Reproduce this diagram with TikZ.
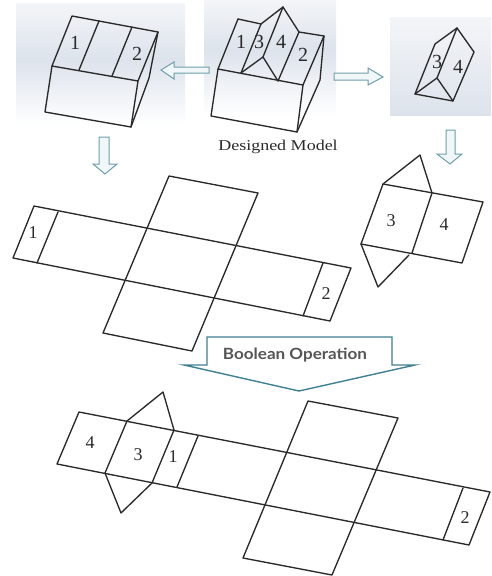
\documentclass[tikz,border=0pt]{standalone}
\usepackage{fontspec}
\setmainfont{Liberation Serif}
\newfontfamily\opfont{Lato}
\definecolor{inkc}{HTML}{2A2A2A}
\definecolor{tealc}{HTML}{6E9FAA}
\definecolor{tealfill}{HTML}{F1F7F9}
\definecolor{tealdark}{HTML}{3F7F92}
\definecolor{panelmid}{HTML}{DDE3EC}
\definecolor{paneltop}{HTML}{F3F5F8}
\tikzset{
  edge/.style={draw=inkc,line width=1.35pt,line join=round,line cap=round},
  num/.style={font=\fontsize{18}{18}\selectfont,text=inkc,inner sep=0pt},
  bignum/.style={font=\fontsize{20}{20}\selectfont,text=inkc,inner sep=0pt},
  blockarrow/.style={draw=tealc,fill=tealfill,line width=1pt,line join=miter},
  bigarrow/.style={draw=tealdark,fill=white,line width=1.4pt,line join=miter},
}
\begin{document}
\begin{tikzpicture}[x=1pt,y=-1pt]
\useasboundingbox (0,0) rectangle (491,576);
% panels
\shade[top color=paneltop,bottom color=panelmid] (16,3) rectangle (185,60);
\shade[top color=panelmid,bottom color=white] (16,60) rectangle (185,125);
\shade[top color=paneltop,bottom color=panelmid] (204,0) rectangle (336,50);
\shade[top color=panelmid,bottom color=white] (204,50) rectangle (336,115);
\shade[top color=paneltop,bottom color=panelmid] (390,17) rectangle (491,115);
% left block
\draw[edge] (72,16)--(158,32)--(138,81)--(52,66)--cycle;
\draw[edge] (99,21)--(79,70) (132,27)--(112,76);
\draw[edge] (52,66)--(45,112)--(131,127)--(138,81);
\draw[edge] (158,32)--(149,78)--(131,127);
\node[bignum] (la) at (75,43) {1};
\node[bignum] (lb) at (137,54) {2};
% middle block
\draw[edge] (238,19)--(218,69)--(303,85)--(324,36)--(299,32);
\draw[edge] (238,19)--(261,24);
\draw[edge] (218,69)--(211,116)--(297,132)--(303,85);
\draw[edge] (324,36)--(320,80)--(297,132);
\draw[edge] (241,73)--(261,24)--(283,7)--(299,32)--(278,81);
\draw[edge] (283,7)--(263,57);
\draw[edge] (241,73)--(263,57)--(278,81);
\node[bignum] (ma) at (241,42) {1};
\node[bignum] (mc) at (259,42) {3};
\node[bignum] (md) at (281,42) {4};
\node[bignum] (mb) at (303,55) {2};
\node[font=\fontsize{15}{15}\selectfont,text=inkc,inner sep=0pt,xscale=1.2] (title) at (278,147) {Designed Model};
% right prism
\draw[edge] (415,94)--(435,44)--(457,28)--(474,52)--(453,101)--cycle;
\draw[edge] (457,28)--(437,78);
\draw[edge] (415,94)--(437,78)--(453,101);
\node[bignum] (pc) at (437,62) {3};
\node[bignum] (pd) at (458,67) {4};
% block arrows
\draw[blockarrow] (161,70)--(174,62)--(174,67)--(209,67)--(209,73)--(174,73)--(174,79)--cycle;
\draw[blockarrow] (334,73)--(368,73)--(368,68)--(383,77)--(368,85)--(368,80)--(334,80)--cycle;
\draw[blockarrow] (99,137)--(109,137)--(109,164)--(117,164)--(105,174)--(93,164)--(99,164)--cycle;
\draw[blockarrow] (446,130)--(455,130)--(455,154)--(462,154)--(450,164)--(437,154)--(446,154)--cycle;
% net 1
\draw[edge] (34,206)--(351,268)--(330,321)--(13,258)--cycle;
\draw[edge] (169,176)--(258,193)--(192,351)--(103,333)--cycle;
\draw[edge] (58,212)--(37,263) (323,263)--(303,316);
\node[num] (na) at (33,233) {1};
\node[num] (nb) at (326,294) {2};
% net 2
\draw[edge] (383,184)--(483,202)--(462,263)--(361,244)--cycle;
\draw[edge] (383,184)--(420,155)--(432,193)--(412,253);
\draw[edge] (361,244)--(378,287)--(409,255);
\node[num] (oc) at (391,221) {3};
\node[num] (od) at (444,225) {4};
% boolean arrow
\draw[bigarrow] (207,337)--(392,337)--(392,365)--(415,365)--(299,391)--(184,365)--(207,365)--cycle;
\node[font=\opfont\bfseries\fontsize{15.5}{15}\selectfont,text=inkc!80,inner sep=0pt,xscale=1.1] (bool) at (295,355) {Boolean Operation};
% net 3
\draw[edge] (79,412)--(490,492)--(469,545)--(57,464)--cycle;
\draw[edge] (308,401)--(398,418)--(332,575)--(243,558)--cycle;
\draw[edge] (127,421)--(105,473) (174,430)--(152,483) (198,436)--(177,487) (463,488)--(443,540);
\draw[edge] (127,421)--(163,392)--(174,430);
\draw[edge] (105,473)--(121,513)--(152,483);
\node[num] (qd) at (90,443) {4};
\node[num] (qc) at (138,455) {3};
\node[num] (qa) at (173,457) {1};
\node[num] (qb) at (465,518) {2};
\end{tikzpicture}
\end{document}
